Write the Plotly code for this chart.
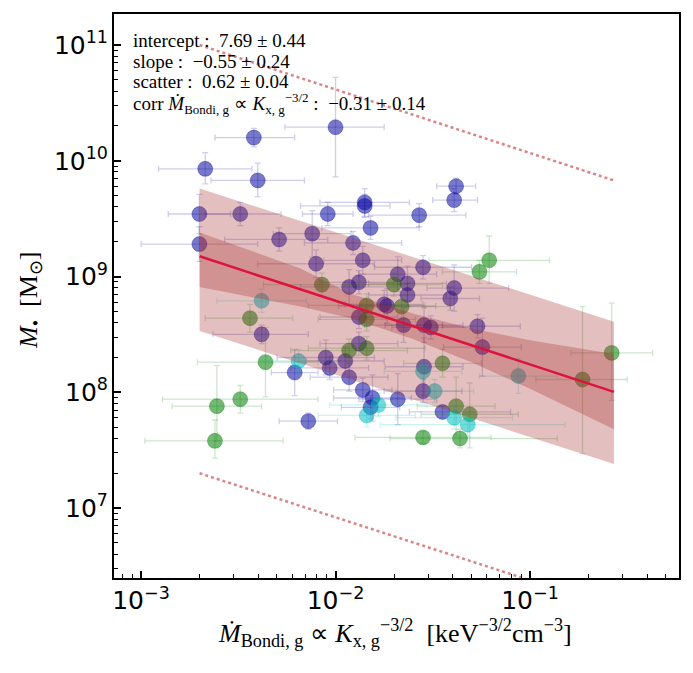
import numpy as np
import plotly.graph_objects as go

# ---------------- data (log10 values, dex) ----------------
# blue sample
b_lx = [-2.00, -2.42, -2.67, -2.40, -2.70, -2.49, -2.04, -1.85, -1.85, -1.82,
        -2.70, -2.29, -2.12, -1.91, -2.10, -1.86, -1.68, -1.88, -1.93, -1.75,
        -1.735, -1.57, -1.38, -1.39, -1.55, -1.63, -1.39, -1.41, -1.63, -2.38,
        -1.88, -1.65, -1.545, -1.51, -1.27, -1.245, -1.88, -2.05, -1.95, -2.03,
        -1.93, -2.21, -1.86, -1.81, -1.82, -1.68, -2.14, -1.545, -1.55, -1.45]
b_ly = [10.29, 10.20, 9.93, 9.83, 9.54, 9.54, 9.54, 9.64, 9.61, 9.42,
        9.28, 9.32, 9.37, 9.29, 9.11, 9.14, 9.02, 8.95, 8.91, 8.76,
        8.745, 9.53, 9.78, 9.66, 9.08, 8.94, 8.90, 8.81, 8.84, 8.50,
        8.65, 8.58, 8.58, 8.56, 8.57, 8.39, 8.42, 8.30, 8.27, 8.21,
        8.13, 8.17, 8.02, 7.95, 7.87, 7.94, 7.75, 8.22, 8.01, 7.83]
b_exm = [.26, .20, .24, .24, .16, .18, .13, .23, .33, .25,
         .30, .28, .20, .25, .30, .20, .20, .20, .25, .20,
         .25, .26, .10, .11, .25, .20, .14, .15, .20, .25,
         .20, .20, .20, .20, .18, .20, .20, .25, .20, .20,
         .20, .12, .15, .20, .15, .20, .15, .20, .20, .17]
b_exp = [.25, .21, .24, .24, .16, .21, .13, .23, .13, .25,
         .30, .25, .20, .25, .30, .20, .20, .20, .25, .20,
         .25, .24, .10, .12, .25, .20, .28, .15, .20, .24,
         .20, .20, .20, .20, .22, .20, .20, .25, .20, .20,
         .20, .12, .15, .20, .15, .20, .15, .20, .20, .35]
b_eym = [.43, .08, .13, .14, .17, .10, .10, .12, .10, .10,
         .15, .10, .20, .10, .12, .12, .15, .10, .15, .12,
         .15, .10, .07, .10, .10, .15, .20, .10, .10, .08,
         .10, .15, .15, .10, .10, .25, .10, .15, .12, .10,
         .12, .20, .10, .20, .10, .22, .07, .25, .10, .05]
b_eyp = [.43, .08, .14, .15, .17, .10, .10, .12, .10, .10,
         .15, .10, .20, .10, .12, .12, .15, .10, .15, .12,
         .15, .10, .07, .10, .10, .15, .20, .10, .10, .08,
         .10, .15, .15, .10, .10, .25, .10, .15, .12, .10,
         .12, .20, .10, .20, .10, .22, .07, .25, .10, .05]

# green sample
g_lx = [-1.21, -1.26, -2.07, -1.70, -1.84, -1.66, -2.44, -1.84, -1.84, -1.93,
        -1.45, -0.58, -0.73, -2.36, -2.49, -2.61, -2.62, -1.38, -1.31, -1.55, -1.36]
g_ly = [9.14, 9.04, 8.93, 8.93, 8.75, 8.74, 8.64, 8.63, 8.38, 8.36,
        8.25, 8.34, 8.11, 8.26, 7.94, 7.88, 7.58, 7.88, 7.81, 7.61, 7.60]
g_exm = [.31, .19, .30, .25, .30, .25, .23, .25, .30, .30,
         .20, .21, .24, .35, .40, .23, .36, .20, .25, .35, .36]
g_exp = [.31, .19, .40, .25, .30, .25, .22, .25, .30, .30,
         .20, .21, .23, .27, .40, .23, .35, .20, .25, .35, .50]
g_eym = [.20, .10, .10, .10, .10, .10, .12, .10, .10, .10,
         .12, .41, .64, .30, .12, .30, .15, .25, .29, .05, .08]
g_eyp = [.21, .10, .10, .10, .10, .10, .12, .10, .10, .10,
         .12, .43, .63, .30, .12, .35, .18, .25, .27, .05, .08]

# cyan sample
c_lx = [-2.38, -2.19, -1.78, -1.84, -1.55, -1.49, -1.06, -1.39, -1.32]
c_ly = [8.79, 8.27, 7.89, 7.80, 8.18, 8.01, 8.14, 7.78, 7.72]
c_exm = [.23, .20, .25, .25, .20, .20, .20, .30, .45]
c_exp = [.23, .20, .25, .25, .20, .20, .20, .30, .50]
c_eym = [.10, .10, .10, .10, .10, .10, .15, .10, .10]
c_eyp = [.10, .10, .10, .10, .10, .10, .15, .10, .10]

# fit
fit_intercept = 7.69
fit_slope = -0.55
fit_xrange = [0.002, 0.27]
# outer band (scatter)
outer_x = [0.002, 0.27]
outer_lo = [8.53, 7.38]
outer_hi = [9.76, 8.61]
# inner band (fit uncertainty)
inner_x = [0.002, 0.004, 0.0066, 0.012, 0.025, 0.05, 0.1, 0.27]
inner_hi = [9.38, 9.20, 9.07, 8.85, 8.68, 8.55, 8.45, 8.33]
inner_lo = [8.91, 8.81, 8.74, 8.64, 8.46, 8.26, 8.03, 7.68]
# 3-sigma dotted lines
dot_x = [0.002, 0.27]
dot_hi = [11.0, 9.83]
dot_lo = [7.30, 6.14]

SUB = "<sub><span style='font-size:13px'>{}</span></sub>"
SUP = "<sup><span style='font-size:13px'>{}</span></sup>"
ann_lines = [
    "intercept :  7.69 ± 0.44",
    "slope :  −0.55 ± 0.24",
    "scatter :  0.62 ± 0.04",
    "corr <i>Ṁ</i>" + SUB.format("Bondi, g") + " ∝ <i>K</i>" + SUB.format("x, g")
    + SUP.format("−3/2") + " :  −0.31 ± 0.14",
]

SERIF = "Liberation Serif, Times New Roman, serif"

fig = go.Figure()


def add_group(lx, ly, exm, exp_, eym, eyp, rgb, a_m, a_e):
    lx = np.array(lx); ly = np.array(ly)
    x = 10 ** lx; y = 10 ** ly
    ex_p = x * (10 ** np.array(exp_) - 1)
    ex_m = x * (1 - 10 ** (-np.array(exm)))
    ey_p = y * (10 ** np.array(eyp) - 1)
    ey_m = y * (1 - 10 ** (-np.array(eym)))
    ecol = f"rgba({rgb},{a_e})"
    fig.add_trace(go.Scatter(
        x=x, y=y, mode="markers",
        marker=dict(size=15, color=f"rgba({rgb},{a_m})",
                    line=dict(width=1, color=f"rgba({rgb},{a_m*0.6})")),
        error_x=dict(type="data", array=ex_p, arrayminus=ex_m, color=ecol,
                     thickness=1.3, width=3),
        error_y=dict(type="data", array=ey_p, arrayminus=ey_m, color=ecol,
                     thickness=1.3, width=3),
        hoverinfo="skip"))


add_group(b_lx, b_ly, b_exm, b_exp, b_eym, b_eyp, "10,10,160", 0.55, 0.2)
add_group(g_lx, g_ly, g_exm, g_exp, g_eym, g_eyp, "0,128,0", 0.55, 0.2)
add_group(c_lx, c_ly, c_exm, c_exp, c_eym, c_eyp, "0,190,190", 0.55, 0.2)

band_col = "rgba(165,42,42,0.3)"
# outer band
fig.add_trace(go.Scatter(
    x=outer_x + outer_x[::-1],
    y=[10 ** v for v in outer_hi + outer_lo[::-1]],
    fill="toself", fillcolor=band_col, line=dict(width=0), mode="lines",
    hoverinfo="skip"))
# inner band
fig.add_trace(go.Scatter(
    x=inner_x + inner_x[::-1],
    y=[10 ** v for v in inner_hi + inner_lo[::-1]],
    fill="toself", fillcolor=band_col, line=dict(width=0), mode="lines",
    hoverinfo="skip"))
# dotted lines
for arr in (dot_hi, dot_lo):
    fig.add_trace(go.Scatter(
        x=dot_x, y=[10 ** v for v in arr], mode="lines",
        line=dict(color="rgba(205,92,92,0.75)", width=2.5, dash="dot"),
        hoverinfo="skip"))
# fit line
fx = np.array(fit_xrange)
fy = 10 ** (fit_intercept + fit_slope * np.log10(fx))
fig.add_trace(go.Scatter(x=fx, y=fy, mode="lines",
                         line=dict(color="crimson", width=2.5),
                         hoverinfo="skip"))

axis_common = dict(
    type="log", showline=True, linecolor="black", linewidth=2, mirror=True,
    ticks="inside", ticklen=7, tickwidth=1.5, tickcolor="black",
    dtick=1, exponentformat="power", showexponent="all",
    tickfont=dict(family="DejaVu Sans", size=20, color="black"),
    showgrid=False, zeroline=False,
    minor=dict(ticks="inside", ticklen=4, tickwidth=1, tickcolor="black",
               dtick="D1", showgrid=False),
)
fig.update_xaxes(range=[-3.139, -0.234], **axis_common)
fig.update_yaxes(range=[6.395, 11.268], **axis_common)

PW, PH, L, T = 565, 564, 114, 14


def px(xp):
    return (xp - L) / PW


def py(yp):
    return (T + PH - yp) / PH


annotations = []
for i, (txt, yy) in enumerate(zip(ann_lines, [41, 61, 82, 104])):
    annotations.append(dict(
        text=txt, x=px(131), y=py(yy), xref="paper", yref="paper",
        xanchor="left", yanchor="middle", showarrow=False,
        font=dict(family=SERIF, size=19, color="black")))
annotations.append(dict(
    text="<i>Ṁ</i><sub>Bondi, g</sub> ∝ <i>K</i><sub>x, g</sub><sup>−3/2</sup>  [keV<sup>−3/2</sup>cm<sup>−3</sup>]",
    x=px(395), y=py(633), xref="paper", yref="paper",
    xanchor="center", yanchor="middle", showarrow=False,
    font=dict(family=SERIF, size=26, color="black")))
annotations.append(dict(
    text="<i>M</i><sub>•</sub>  [M<sub>⊙</sub>]",
    x=px(30), y=py(300), xref="paper", yref="paper",
    xanchor="center", yanchor="middle", showarrow=False, textangle=-90,
    font=dict(family=SERIF, size=26, color="black")))

fig.update_layout(
    width=693, height=673,
    margin=dict(l=114, r=14, t=14, b=95),
    plot_bgcolor="white", paper_bgcolor="white",
    showlegend=False, annotations=annotations,
)

fig.write_html("out.html")
